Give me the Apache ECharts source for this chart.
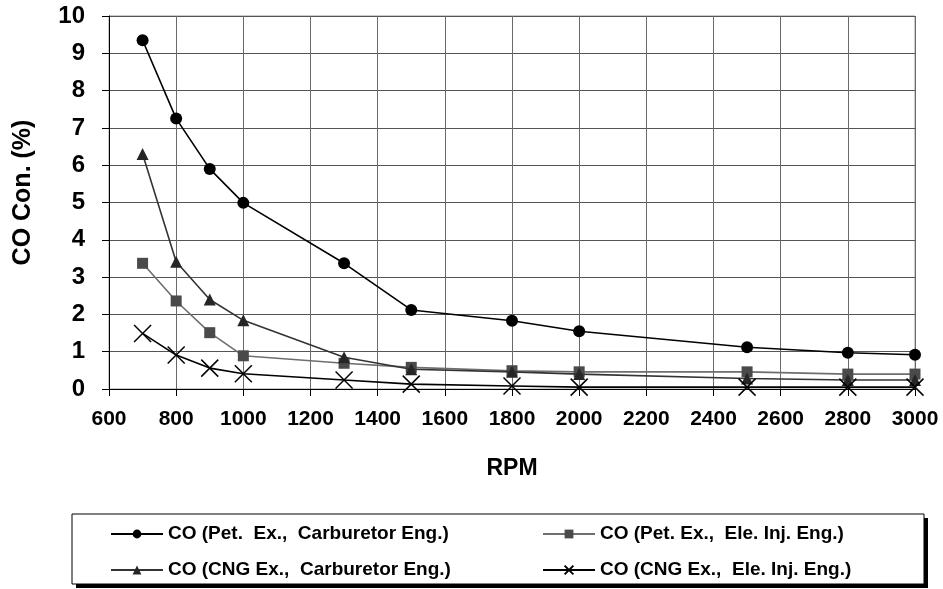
<!DOCTYPE html>
<html>
<head>
<meta charset="utf-8">
<script src="https://cdn.jsdelivr.net/npm/echarts@6/dist/echarts.min.js"></script>
<style>
  html, body { margin: 0; padding: 0; background: #fff; }
  #chart-container { width: 943px; height: 589px; }
</style>
</head>
<body>
<div id="chart-container"></div>
<script>
// RPM values (x) shared by every series
const rpm = [700, 800, 900, 1000, 1300, 1500, 1800, 2000, 2500, 2800, 3000];

// CO concentration (%)
const coPetCarb = [9.35, 7.25, 5.9, 4.99, 3.37, 2.12, 1.83, 1.55, 1.12, 0.97, 0.92];
const coPetEle  = [3.37, 2.36, 1.51, 0.89, 0.69, 0.58, 0.49, 0.46, 0.46, 0.40, 0.40];
const coCngCarb = [6.3, 3.41, 2.4, 1.84, 0.85, 0.53, 0.46, 0.40, 0.28, 0.24, 0.24];
const coCngEle  = [1.49, 0.91, 0.56, 0.41, 0.24, 0.13, 0.08, 0.05, 0.05, 0.05, 0.05];

const seriesNames = [
  'CO (Pet.  Ex.,  Carburetor Eng.)',
  'CO (Pet. Ex.,  Ele. Inj. Eng.)',
  'CO (CNG Ex.,  Carburetor Eng.)',
  'CO (CNG Ex.,  Ele. Inj. Eng.)'
];

const xTicks = { min: 600, max: 3000, step: 200 };
const yTicks = { min: 0, max: 10, step: 1 };

const fuente = "'Liberation Sans', Arial, sans-serif";

function pares(valores) {
  return rpm.map((r, i) => [r, valores[i]]);
}

let myChart = echarts.init(document.getElementById('chart-container'), null, {
  renderer: 'canvas'
});

const cruz = 'path://M0,0L10,10M10,0L0,10';

// estilo comun de las dos columnas de la leyenda
const leyendaBase = {
  orient: 'vertical',
  top: 522,
  padding: 0,
  itemWidth: 52,
  itemHeight: 11,
  itemGap: 12,
  textStyle: { fontFamily: fuente, fontWeight: 'bold', fontSize: 19, lineHeight: 24, color: '#000' },
  z: 5
};

const opciones = {
  backgroundColor: '#fff',
  animation: false,
  grid: {
    left: 109, right: 28, top: 16, bottom: 200,
    show: true,
    borderColor: '#999',
    borderWidth: 1
  },
  // recuadro de la leyenda con su sombra
  graphic: [
    { type: 'rect', shape: { x: 76, y: 518, width: 852, height: 70 }, style: { fill: '#000' }, z: 1 },
    { type: 'rect', shape: { x: 72, y: 514, width: 852, height: 70 }, style: { fill: '#fff', stroke: '#000', lineWidth: 1 }, z: 2 }
  ],
  xAxis: {
    type: 'value',
    min: xTicks.min,
    max: xTicks.max,
    interval: xTicks.step,
    name: 'RPM',
    nameLocation: 'middle',
    nameGap: 68,
    nameTextStyle: { fontFamily: fuente, fontWeight: 'bold', fontSize: 23, color: '#000' },
    axisLine: { lineStyle: { color: '#000', width: 1 } },
    axisTick: { show: true, length: 7, lineStyle: { color: '#000' } },
    axisLabel: {
      fontFamily: fuente, fontWeight: 'bold', fontSize: 21, color: '#000', margin: 20,
      formatter: v => String(v)
    },
    splitLine: { show: true, lineStyle: { color: '#6a6a6a', width: 1 } }
  },
  yAxis: {
    type: 'value',
    min: yTicks.min,
    max: yTicks.max,
    interval: yTicks.step,
    name: 'CO Con. (%)',
    nameLocation: 'middle',
    nameGap: 73,
    nameTextStyle: {
      fontFamily: fuente, fontWeight: 'bold', fontSize: 25, color: '#000',
      padding: [0, 0, 0, 20]
    },
    axisLine: { show: true, lineStyle: { color: '#000', width: 1 } },
    axisTick: { show: true, length: 7, lineStyle: { color: '#000' } },
    axisLabel: { fontFamily: fuente, fontWeight: 'bold', fontSize: 24, color: '#000', margin: 24 },
    splitLine: { show: true, lineStyle: { color: '#555', width: 1 } }
  },
  legend: [
    Object.assign({}, leyendaBase, { data: [seriesNames[0], seriesNames[2]], left: 110 }),
    Object.assign({}, leyendaBase, { data: [seriesNames[1], seriesNames[3]], left: 542 })
  ],
  series: [
    {
      name: seriesNames[0],
      type: 'line',
      data: pares(coPetCarb),
      symbol: 'circle',
      symbolSize: 12,
      itemStyle: { color: '#000' },
      lineStyle: { color: '#000', width: 1.6 },
      z: 5
    },
    {
      name: seriesNames[1],
      type: 'line',
      data: pares(coPetEle),
      symbol: 'rect',
      symbolSize: 11,
      itemStyle: { color: '#4a4a4a' },
      lineStyle: { color: '#6e6e6e', width: 1.6 },
      z: 3
    },
    {
      name: seriesNames[2],
      type: 'line',
      data: pares(coCngCarb),
      symbol: 'triangle',
      symbolSize: 12,
      itemStyle: { color: '#262626' },
      lineStyle: { color: '#333', width: 1.6 },
      z: 4
    },
    {
      name: seriesNames[3],
      type: 'line',
      data: pares(coCngEle),
      symbol: cruz,
      symbolSize: 17,
      itemStyle: { color: 'transparent', borderColor: '#000', borderWidth: 1.5 },
      lineStyle: { color: '#000', width: 1.6 },
      z: 6
    }
  ]
};

myChart.setOption(opciones, true);
window.addEventListener('resize', myChart.resize);
</script>
</body>
</html>
